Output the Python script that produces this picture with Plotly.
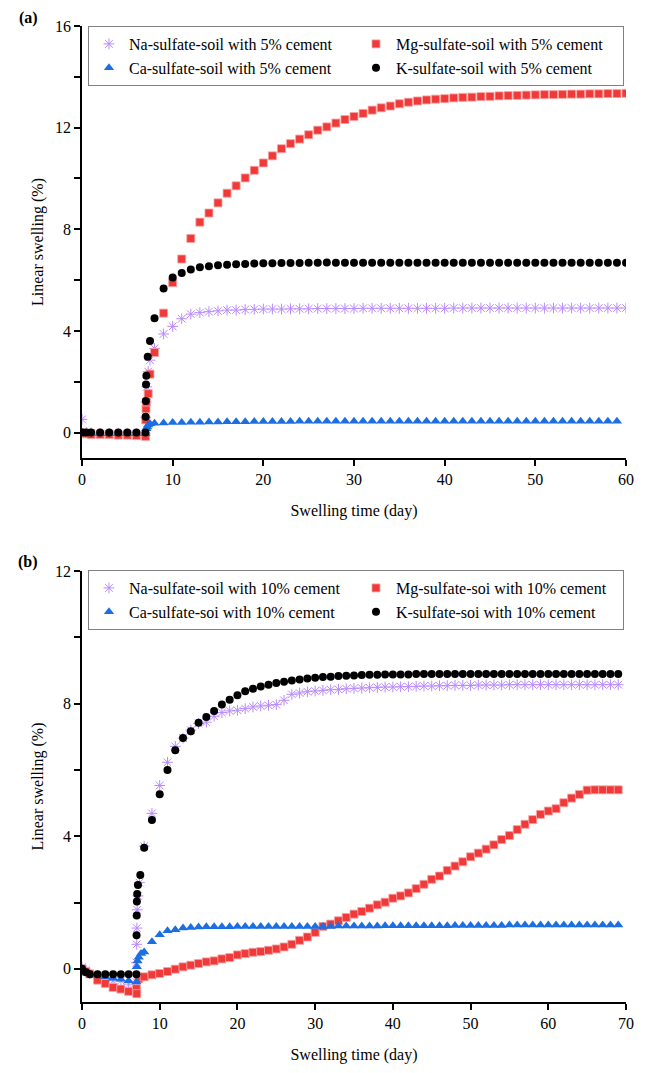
import plotly.graph_objects as go

# ---------------- Panel (a): soils with 5% cement ----------------
days_a_daily = list(range(8, 61))

na5_x = [0, 0.5, 1, 2, 3, 4, 5, 6, 7, 7.03, 7.06, 7.15, 7.3, 7.5] + days_a_daily
na5_y = [0.52, 0.0, -0.02, -0.04, -0.04, -0.05, -0.05, -0.05, -0.05, 0.6, 1.2, 1.8, 2.4, 2.85,
         3.31, 3.88, 4.18, 4.48, 4.66, 4.72, 4.76, 4.79, 4.82, 4.82, 4.84, 4.85, 4.86,
         4.86, 4.86, 4.87, 4.87, 4.87, 4.88, 4.88, 4.88, 4.88, 4.88, 4.89, 4.89, 4.89,
         4.89, 4.89, 4.89, 4.89, 4.89, 4.89, 4.89, 4.9, 4.9, 4.9, 4.9, 4.9, 4.9, 4.9,
         4.9, 4.9, 4.9, 4.9, 4.9, 4.9, 4.9, 4.9, 4.9, 4.9, 4.9, 4.9, 4.9]

mg5_x = [0, 0.5, 1, 2, 3, 4, 5, 6, 7, 7.03, 7.06, 7.1, 7.3, 7.5] + days_a_daily
mg5_y = [0.0, -0.05, -0.08, -0.08, -0.08, -0.1, -0.1, -0.12, -0.15, 0.5, 0.94, 1.2, 1.53, 2.3,
         3.15, 4.7, 5.9, 6.83, 7.64, 8.28, 8.64, 9.04, 9.42, 9.71, 10.02, 10.32, 10.61,
         10.89, 11.17, 11.37, 11.55, 11.72, 11.9, 12.03, 12.18, 12.32, 12.44, 12.56,
         12.69, 12.78, 12.85, 12.94, 13.0, 13.05, 13.09, 13.12, 13.14, 13.17, 13.19,
         13.2, 13.22, 13.23, 13.25, 13.26, 13.27, 13.28, 13.29, 13.3, 13.3, 13.31, 13.32,
         13.32, 13.33, 13.33, 13.34, 13.34, 13.35]

ca5_x = [0, 0.5, 1, 2, 3, 4, 5, 6, 7, 7.1, 7.2, 7.3, 7.5] + days_a_daily
ca5_y = [0.0, -0.03, -0.04, -0.05, -0.05, -0.05, -0.05, -0.05, -0.05, 0.15, 0.22, 0.3, 0.35,
         0.37, 0.38, 0.4, 0.4, 0.41, 0.41, 0.42, 0.42, 0.43, 0.43, 0.43, 0.44, 0.44,
         0.44, 0.44, 0.44, 0.45, 0.45, 0.45, 0.45, 0.45, 0.45, 0.45, 0.45, 0.45, 0.45,
         0.45, 0.45, 0.45, 0.45, 0.45, 0.45, 0.45, 0.45, 0.45, 0.45, 0.45, 0.45, 0.45,
         0.45, 0.45, 0.45, 0.45, 0.45, 0.45, 0.45, 0.45, 0.45, 0.45, 0.45, 0.45, 0.45]

k5_x = [0, 0.5, 1, 2, 3, 4, 5, 6, 7, 7.02, 7.04, 7.06, 7.1, 7.25, 7.5] + days_a_daily
k5_y = [0.0, 0.0, 0.0, 0.0, 0.0, 0.0, 0.0, 0.0, 0.0, 0.62, 1.24, 1.89, 2.24, 2.98, 3.6,
        4.5, 5.67, 6.1, 6.28, 6.42, 6.51, 6.55, 6.58, 6.6, 6.62, 6.63, 6.65, 6.66,
        6.66, 6.67, 6.67, 6.67, 6.68, 6.68, 6.69, 6.68, 6.68, 6.68, 6.68, 6.68, 6.68,
        6.68, 6.68, 6.68, 6.68, 6.68, 6.68, 6.68, 6.68, 6.68, 6.68, 6.68, 6.68, 6.68,
        6.68, 6.68, 6.68, 6.68, 6.68, 6.68, 6.68, 6.68, 6.68, 6.68, 6.68, 6.68, 6.68, 6.68]

# ---------------- Panel (b): soils with 10% cement ----------------
days_b_daily = list(range(8, 70))

na10_x = [0, 0.5, 1, 2, 3, 4, 5, 6, 7, 7.02, 7.04, 7.06, 7.1, 7.2, 7.4] + days_b_daily
na10_y = [0.05, -0.05, -0.15, -0.2, -0.28, -0.36, -0.36, -0.46, -0.4, 0.19, 0.74, 1.23, 1.78,
          2.2, 2.6, 3.7, 4.69, 5.53, 6.23, 6.71, 6.96, 7.2, 7.4, 7.44, 7.62, 7.73, 7.78,
          7.8, 7.85, 7.9, 7.93, 7.95, 7.97, 8.1, 8.28, 8.32, 8.36, 8.38, 8.4, 8.42, 8.43,
          8.45, 8.46, 8.47, 8.48, 8.49, 8.5, 8.5, 8.51, 8.51, 8.52, 8.53, 8.53, 8.54,
          8.54, 8.55, 8.55, 8.55, 8.56, 8.56, 8.56, 8.56, 8.57, 8.57, 8.57, 8.57, 8.57,
          8.57, 8.57, 8.57, 8.57, 8.57, 8.57, 8.57, 8.57, 8.57, 8.57]

mg10_x = [0, 0.5, 1, 2, 3, 4, 5, 6, 7, 7.05, 7.3] + days_b_daily
mg10_y = [0.0, -0.08, -0.15, -0.34, -0.44, -0.56, -0.61, -0.68, -0.6, -0.75, -0.3,
          -0.24, -0.18, -0.14, -0.08, -0.01, 0.06, 0.11, 0.16, 0.21, 0.24, 0.3, 0.34,
          0.42, 0.46, 0.5, 0.52, 0.56, 0.6, 0.66, 0.74, 0.86, 0.96, 1.1, 1.28, 1.35,
          1.45, 1.55, 1.65, 1.73, 1.83, 1.93, 2.01, 2.13, 2.2, 2.29, 2.42, 2.55, 2.7,
          2.8, 2.97, 3.1, 3.23, 3.38, 3.49, 3.61, 3.74, 3.9, 4.02, 4.2, 4.36, 4.5, 4.66,
          4.76, 4.83, 5.01, 5.15, 5.26, 5.39, 5.4, 5.4, 5.4, 5.4]

ca10_x = [0, 0.5, 1, 2, 3, 4, 5, 6, 7, 7.05, 7.15, 7.3, 7.6] + days_b_daily
ca10_y = [0.0, -0.1, -0.15, -0.2, -0.24, -0.28, -0.31, -0.36, -0.4, 0.06, 0.24, 0.35, 0.46,
          0.51, 0.82, 1.03, 1.15, 1.18, 1.23, 1.25, 1.26, 1.27, 1.27, 1.27, 1.27, 1.28,
          1.28, 1.28, 1.28, 1.28, 1.28, 1.28, 1.28, 1.28, 1.28, 1.28, 1.28, 1.28, 1.29,
          1.29, 1.29, 1.29, 1.29, 1.29, 1.3, 1.3, 1.3, 1.3, 1.3, 1.3, 1.3, 1.3, 1.3,
          1.31, 1.31, 1.31, 1.31, 1.31, 1.31, 1.31, 1.32, 1.32, 1.32, 1.32, 1.32, 1.32,
          1.32, 1.32, 1.32, 1.32, 1.32, 1.32, 1.32, 1.32, 1.32]

k10_x = [0, 0.5, 1, 2, 3, 4, 5, 6, 7, 7.02, 7.04, 7.06, 7.1, 7.2, 7.5] + days_b_daily
k10_y = [0.0, -0.1, -0.16, -0.16, -0.16, -0.16, -0.16, -0.16, -0.16, 1.01, 1.61, 2.03, 2.26,
         2.53, 2.83, 3.65, 4.49, 5.27, 6.0, 6.59, 6.96, 7.17, 7.42, 7.6, 7.78, 7.97, 8.12,
         8.25, 8.37, 8.45, 8.52, 8.57, 8.62, 8.66, 8.7, 8.73, 8.76, 8.78, 8.8, 8.81,
         8.83, 8.84, 8.85, 8.86, 8.87, 8.87, 8.88, 8.88, 8.88, 8.88, 8.89, 8.89, 8.89,
         8.89, 8.89, 8.89, 8.89, 8.89, 8.89, 8.89, 8.89, 8.89, 8.89, 8.89, 8.89, 8.89,
         8.89, 8.89, 8.89, 8.89, 8.89, 8.89, 8.89, 8.89, 8.89, 8.89, 8.89]

labels_a = ["Na-sulfate-soil with 5% cement", "Mg-sulfate-soil with 5% cement",
            "Ca-sulfate-soil with 5% cement", "K-sulfate-soil with 5% cement"]
labels_b = ["Na-sulfate-soil with 10% cement", "Mg-sulfate-soi with 10% cement",
            "Ca-sulfate-soi with 10% cement", "K-sulfate-soi with 10% cement"]

FONT = "Liberation Serif, Times New Roman, serif"
NA_COLOR = "#b98aff"
MG_COLOR = "#f03a3a"
CA_COLOR = "#1c6fe0"
K_COLOR = "#000000"

styles = [
    dict(symbol="asterisk-open", size=9, color=NA_COLOR, line=dict(color=NA_COLOR, width=1)),
    dict(symbol="square", size=8, color=MG_COLOR, line=dict(color="#f7a3a3", width=0.8)),
    dict(symbol="triangle-up", size=9, color=CA_COLOR, line=dict(width=0)),
    dict(symbol="circle", size=8, color=K_COLOR, line=dict(width=0)),
]

fig = go.Figure()

series_a = [(na5_x, na5_y), (mg5_x, mg5_y), (ca5_x, ca5_y), (k5_x, k5_y)]
series_b = [(na10_x, na10_y), (mg10_x, mg10_y), (ca10_x, ca10_y), (k10_x, k10_y)]

for (x, y), name, st in zip(series_a, labels_a, styles):
    fig.add_trace(go.Scatter(x=x, y=y, mode="markers", name=name, marker=st,
                             xaxis="x", yaxis="y", legend="legend"))
for (x, y), name, st in zip(series_b, labels_b, styles):
    fig.add_trace(go.Scatter(x=x, y=y, mode="markers", name=name, marker=st,
                             xaxis="x2", yaxis="y2", legend="legend2"))

axis_common = dict(
    showline=True, linecolor="black", linewidth=1.5, mirror=False,
    ticks="outside", ticklen=6, tickwidth=1.5, tickcolor="black",
    showgrid=False, zeroline=False,
    tickfont=dict(family=FONT, size=16, color="black"),
    title_font=dict(family=FONT, size=16, color="black"),
)
minor_y = dict(dtick=2, ticks="outside", ticklen=6, tickwidth=1.5, tickcolor="black", showgrid=False)

legend_common = dict(
    orientation="h", xanchor="left", yanchor="top", x=0.011,
    bgcolor="white", bordercolor="#7f7f7f", borderwidth=1,
    font=dict(family=FONT, size=16, color="black"),
    entrywidth=222, entrywidthmode="pixels", tracegroupgap=0,
)

fig.update_layout(
    width=646, height=1073,
    margin=dict(l=82, r=20, t=26, b=62),
    paper_bgcolor="white", plot_bgcolor="white",
    font=dict(family=FONT, size=16, color="black"),
    xaxis=dict(domain=[0, 1], anchor="y", range=[0, 60], dtick=10,
               title=dict(text="Swelling time (day)", standoff=18), **axis_common),
    yaxis=dict(domain=[0.5574, 1], anchor="x", range=[-1, 16], tickvals=[0, 4, 8, 12, 16],
               minor=minor_y, title=dict(text="Linear swelling (%)", standoff=7), **axis_common),
    xaxis2=dict(domain=[0, 1], anchor="y2", range=[0, 70], dtick=10,
                title=dict(text="Swelling time (day)", standoff=18), **axis_common),
    yaxis2=dict(domain=[0, 0.4416], anchor="x2", range=[-1, 12], tickvals=[0, 4, 8, 12],
                minor=minor_y, title=dict(text="Linear swelling (%)", standoff=7), **axis_common),
    legend=dict(y=1.0, **legend_common),
    legend2=dict(y=0.4426, **legend_common),
    annotations=[
        dict(text="<b>(a)</b>", xref="paper", yref="paper", x=-0.099, y=1.008,
             xanchor="center", yanchor="middle", showarrow=False,
             font=dict(family=FONT, size=16, color="black")),
        dict(text="<b>(b)</b>", xref="paper", yref="paper", x=-0.099, y=0.4508,
             xanchor="center", yanchor="middle", showarrow=False,
             font=dict(family=FONT, size=16, color="black")),
    ],
)

fig.write_html("out.html")
